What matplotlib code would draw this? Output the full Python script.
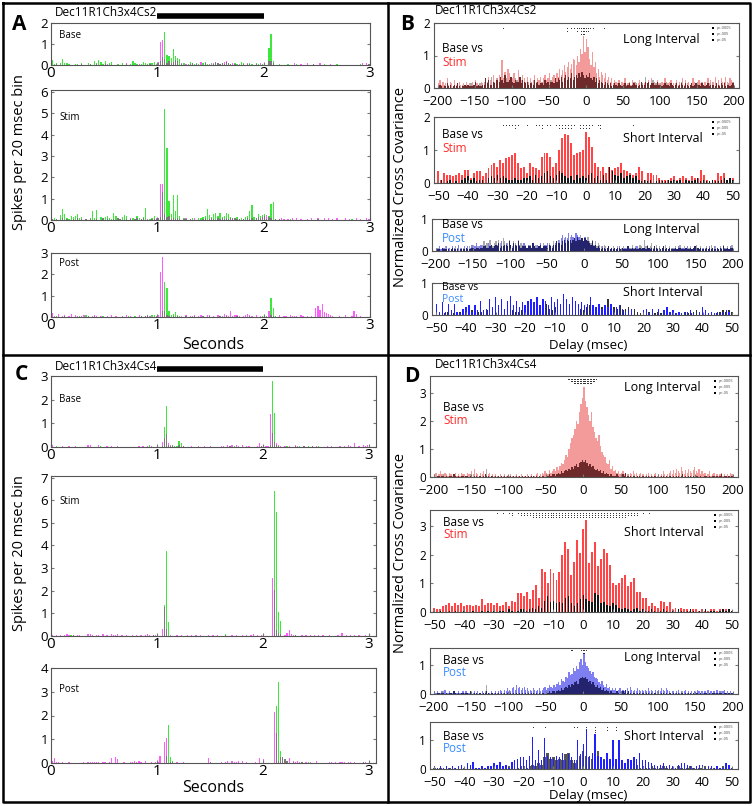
import numpy as np
import matplotlib
matplotlib.use('Agg')
import matplotlib.pyplot as plt
import matplotlib.transforms as mtransforms
from matplotlib.lines import Line2D

plt.rcParams['font.family'] = ['Open Sans', 'DejaVu Sans']

# ---------------- data (values in 1/100) ----------------
# PSTH, 20 ms bins, 0..3 s (150 bins); rows of 10 bins = 0.2 s
a_base_green = [
    25, 5, 10, 0, 10, 30, 10, 10, 5, 0,
    0, 5, 5, 0, 10, 0, 0, 10, 5, 0,
    20, 10, 25, 15, 5, 20, 0, 10, 15, 0,
    0, 5, 0, 10, 0, 5, 0, 5, 20, 10,
    5, 0, 5, 15, 10, 5, 10, 10, 15, 0,
    10, 20, 40, 155, 50, 45, 35, 75, 45, 35,
    30, 5, 10, 0, 5, 15, 10, 5, 10, 5,
    0, 10, 15, 5, 0, 10, 5, 15, 10, 5,
    10, 5, 15, 10, 5, 0, 10, 5, 0, 15,
    10, 0, 5, 10, 5, 0, 10, 5, 0, 5,
    0, 0, 80, 150, 20, 0, 0, 5, 0, 0,
    0, 5, 0, 0, 0, 5, 0, 0, 0, 0,
    0, 0, 0, 5, 0, 0, 0, 0, 5, 0,
    0, 0, 0, 0, 5, 0, 0, 0, 0, 0,
    0, 0, 0, 0, 0, 5, 0, 0, 0, 5]
a_base_mag = [
    0, 0, 5, 0, 0, 0, 0, 0, 0, 0,
    0, 0, 0, 0, 5, 0, 0, 0, 5, 0,
    0, 5, 0, 0, 0, 5, 5, 0, 0, 0,
    0, 0, 0, 0, 0, 10, 0, 0, 0, 0,
    0, 5, 0, 0, 0, 0, 5, 0, 0, 5,
    15, 110, 120, 30, 10, 20, 10, 15, 25, 20,
    0, 10, 0, 5, 0, 5, 10, 0, 5, 0,
    15, 0, 10, 0, 5, 0, 10, 15, 10, 5,
    10, 15, 20, 10, 5, 10, 5, 0, 5, 0,
    5, 0, 10, 5, 0, 0, 5, 0, 10, 0,
    0, 0, 20, 20, 10, 0, 0, 0, 0, 0,
    0, 0, 0, 0, 10, 0, 0, 5, 0, 0,
    10, 0, 0, 5, 0, 0, 10, 0, 0, 0,
    0, 5, 0, 0, 0, 0, 0, 0, 0, 0,
    0, 0, 0, 0, 0, 0, 10, 0, 10, 5]
a_stim_green = [
    5, 10, 5, 0, 25, 50, 30, 10, 5, 20,
    15, 20, 30, 10, 15, 0, 5, 0, 10, 40,
    10, 45, 0, 15, 10, 15, 20, 10, 5, 35,
    20, 10, 5, 15, 25, 20, 0, 5, 10, 5,
    20, 10, 5, 15, 55, 0, 5, 10, 20, 5,
    10, 15, 130, 520, 340, 90, 30, 115, 40, 115,
    20, 0, 10, 5, 0, 5, 10, 0, 0, 10,
    10, 15, 20, 50, 25, 15, 30, 35, 20, 35,
    15, 20, 35, 30, 15, 10, 10, 15, 5, 10,
    5, 15, 20, 40, 70, 15, 10, 30, 20, 25,
    30, 5, 20, 75, 85, 5, 0, 5, 0, 0,
    0, 0, 5, 0, 0, 0, 0, 0, 0, 0,
    0, 0, 0, 0, 0, 5, 0, 0, 0, 0,
    0, 0, 0, 0, 0, 0, 0, 0, 0, 0,
    0, 5, 0, 0, 0, 0, 0, 0, 0, 0]
a_stim_mag = [
    5, 0, 5, 0, 0, 10, 0, 5, 0, 0,
    5, 0, 10, 0, 5, 0, 5, 0, 5, 0,
    0, 5, 0, 0, 10, 0, 5, 0, 0, 5,
    0, 10, 5, 0, 0, 5, 0, 10, 0, 5,
    10, 0, 5, 10, 0, 5, 0, 5, 5, 10,
    10, 170, 170, 30, 15, 20, 5, 10, 5, 10,
    5, 0, 5, 10, 0, 5, 0, 10, 0, 0,
    0, 5, 10, 0, 5, 10, 5, 0, 10, 5,
    10, 5, 10, 5, 10, 10, 10, 5, 5, 0,
    5, 0, 10, 5, 10, 0, 10, 15, 10, 15,
    20, 25, 15, 10, 0, 5, 0, 5, 10, 5,
    0, 5, 0, 10, 0, 10, 0, 5, 0, 0,
    5, 0, 10, 0, 0, 10, 0, 0, 10, 0,
    10, 0, 5, 0, 10, 0, 0, 0, 10, 0,
    5, 0, 0, 10, 0, 5, 0, 0, 10, 5]
a_post_green = [
    0, 0, 5, 0, 0, 0, 5, 0, 0, 0,
    0, 0, 0, 5, 0, 0, 10, 5, 0, 0,
    5, 0, 0, 0, 5, 0, 0, 0, 0, 0,
    0, 0, 0, 0, 0, 0, 5, 0, 0, 5,
    0, 0, 5, 0, 5, 10, 0, 10, 10, 0,
    0, 0, 30, 165, 135, 30, 10, 15, 25, 10,
    5, 0, 0, 5, 0, 0, 0, 5, 0, 0,
    0, 5, 0, 0, 5, 0, 0, 0, 0, 5,
    0, 0, 5, 0, 0, 0, 0, 5, 0, 0,
    0, 0, 0, 5, 0, 0, 0, 0, 0, 5,
    0, 5, 0, 90, 40, 5, 0, 0, 0, 0,
    0, 0, 0, 0, 0, 0, 0, 0, 0, 0,
    0, 0, 0, 0, 0, 0, 0, 0, 0, 0,
    0, 0, 0, 0, 0, 0, 0, 0, 0, 0,
    0, 0, 0, 0, 0, 0, 0, 0, 0, 0]
a_post_mag = [
    20, 5, 0, 15, 0, 5, 10, 0, 5, 15,
    0, 10, 5, 0, 5, 10, 0, 5, 0, 5,
    10, 5, 0, 5, 0, 0, 5, 0, 10, 0,
    5, 0, 0, 5, 0, 10, 0, 5, 0, 0,
    0, 10, 5, 0, 5, 10, 5, 0, 0, 5,
    10, 210, 280, 30, 10, 5, 0, 5, 0, 5,
    0, 5, 0, 10, 0, 5, 5, 10, 0, 5,
    10, 5, 0, 10, 10, 0, 5, 0, 10, 5,
    5, 15, 10, 5, 30, 5, 10, 10, 5, 0,
    5, 10, 15, 10, 5, 0, 10, 0, 5, 0,
    10, 0, 30, 10, 5, 0, 0, 10, 0, 5,
    5, 0, 10, 5, 5, 5, 0, 10, 5, 0,
    5, 0, 5, 0, 40, 50, 35, 60, 25, 20,
    15, 10, 5, 0, 0, 5, 0, 0, 10, 0,
    0, 5, 30, 15, 0, 5, 0, 0, 0, 0]

c_base_green = [
    0, 0, 5, 0, 0, 0, 0, 0, 0, 0,
    0, 0, 0, 0, 0, 0, 0, 0, 0, 0,
    0, 0, 0, 5, 0, 0, 0, 0, 0, 0,
    0, 0, 0, 0, 0, 0, 0, 0, 0, 0,
    0, 0, 0, 0, 0, 0, 10, 0, 0, 0,
    0, 0, 5, 85, 175, 10, 5, 10, 5, 5,
    25, 15, 5, 0, 0, 0, 0, 0, 0, 0,
    0, 0, 0, 0, 0, 0, 0, 0, 0, 0,
    0, 0, 0, 0, 5, 0, 5, 0, 0, 0,
    0, 0, 0, 0, 0, 0, 0, 0, 0, 5,
    0, 0, 0, 10, 280, 145, 10, 5, 0, 0,
    0, 5, 0, 0, 0, 5, 0, 5, 0, 5,
    0, 5, 0, 5, 0, 0, 5, 0, 0, 0,
    0, 0, 0, 0, 0, 0, 0, 0, 0, 0,
    0, 0, 0, 0, 0, 0, 0, 0, 0, 0]
c_base_mag = [
    10, 0, 0, 0, 0, 5, 0, 0, 5, 0,
    0, 5, 0, 0, 0, 0, 0, 10, 10, 0,
    0, 0, 10, 0, 0, 0, 5, 0, 5, 0,
    0, 5, 0, 0, 0, 0, 0, 0, 0, 0,
    0, 5, 0, 5, 0, 5, 0, 5, 0, 0,
    0, 0, 20, 40, 55, 15, 10, 5, 0, 0,
    10, 0, 5, 0, 0, 0, 5, 0, 0, 5,
    0, 0, 5, 0, 0, 5, 0, 0, 0, 0,
    5, 5, 0, 10, 5, 10, 0, 10, 5, 0,
    10, 0, 5, 5, 0, 0, 0, 5, 15, 5,
    5, 5, 5, 140, 60, 20, 15, 10, 5, 0,
    5, 0, 5, 0, 0, 10, 5, 0, 0, 5,
    0, 0, 0, 5, 0, 5, 0, 0, 0, 0,
    5, 0, 5, 0, 0, 0, 5, 0, 5, 0,
    10, 5, 0, 15, 0, 5, 0, 10, 5, 10]
c_stim_green = [
    0, 0, 0, 0, 0, 0, 0, 0, 0, 5,
    5, 0, 0, 0, 0, 0, 0, 0, 0, 0,
    0, 0, 0, 0, 0, 0, 0, 0, 0, 0,
    0, 0, 0, 0, 0, 0, 0, 0, 0, 0,
    0, 0, 0, 0, 0, 0, 0, 0, 5, 0,
    0, 0, 0, 135, 375, 60, 0, 0, 0, 0,
    0, 0, 0, 0, 0, 0, 0, 0, 0, 0,
    0, 0, 0, 0, 0, 0, 0, 0, 0, 0,
    0, 0, 10, 0, 0, 0, 0, 0, 0, 0,
    0, 0, 0, 0, 0, 0, 0, 0, 0, 0,
    0, 0, 0, 0, 0, 640, 550, 105, 65, 0,
    0, 0, 0, 0, 0, 5, 0, 0, 0, 0,
    0, 0, 0, 0, 0, 0, 0, 0, 0, 0,
    0, 0, 0, 0, 0, 0, 0, 0, 0, 0,
    0, 0, 0, 0, 0, 0, 0, 0, 0, 0]
c_stim_mag = [
    5, 0, 5, 0, 5, 0, 5, 10, 5, 0,
    5, 0, 5, 5, 0, 0, 0, 10, 10, 5,
    0, 5, 5, 0, 10, 0, 5, 0, 10, 5,
    5, 10, 0, 5, 0, 5, 0, 0, 5, 0,
    5, 0, 5, 0, 5, 10, 5, 0, 5, 5,
    0, 0, 30, 130, 30, 0, 5, 0, 0, 5,
    0, 5, 0, 0, 5, 0, 5, 0, 5, 0,
    5, 0, 0, 0, 5, 0, 5, 0, 5, 0,
    0, 0, 5, 0, 0, 5, 0, 5, 0, 0,
    5, 0, 5, 0, 5, 10, 0, 5, 0, 5,
    0, 0, 0, 0, 255, 205, 25, 15, 10, 0,
    5, 15, 25, 10, 5, 5, 0, 0, 5, 0,
    5, 0, 5, 0, 5, 0, 5, 0, 5, 0,
    0, 5, 0, 0, 0, 5, 0, 15, 0, 5,
    0, 5, 0, 5, 0, 5, 0, 0, 5, 0]
c_post_green = [
    0, 0, 0, 0, 0, 0, 0, 0, 0, 0,
    0, 0, 0, 0, 0, 0, 0, 0, 0, 0,
    0, 0, 0, 0, 0, 0, 0, 0, 0, 0,
    0, 0, 0, 0, 0, 0, 0, 0, 0, 0,
    0, 0, 0, 0, 0, 0, 0, 0, 0, 0,
    0, 0, 0, 0, 30, 160, 25, 10, 0, 0,
    0, 0, 0, 0, 0, 0, 0, 0, 0, 0,
    0, 0, 0, 0, 0, 5, 0, 0, 0, 0,
    0, 0, 0, 0, 0, 0, 0, 0, 0, 0,
    0, 0, 0, 0, 0, 0, 0, 0, 0, 0,
    0, 0, 0, 0, 0, 0, 240, 340, 50, 25,
    15, 10, 0, 0, 5, 0, 0, 0, 5, 0,
    0, 5, 0, 0, 0, 0, 0, 0, 0, 0,
    0, 0, 0, 0, 0, 0, 0, 0, 0, 0,
    0, 0, 0, 0, 0, 0, 0, 5, 0, 0]
c_post_mag = [
    10, 20, 5, 5, 0, 5, 0, 0, 5, 0,
    0, 0, 0, 0, 0, 5, 0, 5, 5, 5,
    5, 5, 5, 0, 5, 5, 0, 5, 20, 0,
    25, 15, 0, 0, 5, 0, 0, 5, 5, 10,
    5, 10, 5, 0, 10, 0, 0, 5, 0, 5,
    5, 30, 0, 90, 105, 0, 5, 5, 0, 5,
    0, 0, 5, 0, 0, 0, 0, 0, 0, 0,
    0, 0, 0, 0, 20, 5, 0, 0, 0, 0,
    5, 0, 5, 10, 0, 10, 5, 5, 10, 0,
    10, 0, 5, 0, 0, 0, 5, 0, 20, 0,
    15, 0, 0, 0, 0, 215, 125, 10, 25, 25,
    15, 10, 20, 0, 10, 5, 10, 5, 5, 0,
    5, 0, 5, 0, 0, 10, 0, 0, 0, 0,
    0, 5, 5, 0, 5, 0, 5, 5, 5, 0,
    5, 5, 0, 5, 0, 0, 0, 5, 5, 0]

# Cross covariance, long interval: 2 ms bins, -200..200 (rows of 40 ms)
b_long_stim = [
    15, 25, 10, 20, 5, 15, 30, 10, 20, 15, 5, 25, 10, 15, 20, 10, 5, 15, 10, 20,
    10, 15, 5, 20, 10, 25, 15, 10, 5, 20, 15, 10, 30, 20, 35, 25, 10, 40, 20, 30,
    25, 40, 35, 85, 30, 50, 20, 60, 45, 35, 30, 45, 25, 20, 55, 35, 25, 40, 30, 20,
    35, 20, 30, 15, 25, 40, 20, 30, 25, 35, 15, 30, 40, 25, 30, 45, 20, 35, 40, 30,
    45, 35, 60, 40, 55, 70, 50, 65, 80, 60, 75, 90, 85, 70, 100, 80, 120, 105, 160, 110,
    150, 125, 90, 70, 110, 65, 80, 45, 60, 35, 50, 40, 30, 45, 25, 35, 20, 30, 15, 25,
    20, 15, 25, 10, 20, 15, 30, 10, 15, 20, 10, 25, 15, 20, 10, 15, 25, 20, 10, 15,
    20, 15, 25, 10, 30, 15, 20, 10, 25, 15, 10, 20, 15, 30, 10, 15, 20, 25, 10, 15,
    15, 25, 10, 20, 15, 30, 10, 25, 15, 20, 10, 15, 30, 20, 15, 10, 25, 15, 20, 10,
    20, 10, 30, 15, 25, 10, 20, 35, 15, 25, 10, 30, 20, 15, 35, 20, 10, 30, 25, 15]
b_long_base = [
    5, 10, 5, 0, 10, 5, 15, 5, 10, 0, 5, 10, 5, 15, 5, 0, 10, 5, 10, 5,
    10, 5, 15, 5, 10, 20, 5, 10, 15, 5, 10, 20, 30, 15, 25, 10, 35, 20, 15, 25,
    30, 20, 35, 25, 15, 40, 30, 20, 25, 35, 20, 15, 30, 25, 20, 35, 15, 25, 20, 15,
    20, 10, 15, 20, 10, 25, 15, 20, 10, 15, 20, 10, 25, 15, 20, 10, 25, 20, 15, 30,
    20, 30, 25, 35, 20, 30, 40, 25, 35, 30, 45, 25, 35, 40, 30, 45, 35, 50, 40, 30,
    40, 35, 45, 30, 25, 35, 20, 30, 15, 25, 20, 15, 10, 20, 15, 10, 15, 5, 10, 15,
    10, 5, 15, 10, 5, 10, 15, 5, 10, 15, 5, 10, 20, 10, 15, 5, 10, 20, 15, 10,
    35, 15, 20, 10, 15, 25, 10, 15, 20, 10, 15, 5, 10, 15, 20, 10, 5, 15, 10, 5,
    10, 15, 5, 10, 20, 10, 5, 15, 10, 5, 10, 15, 5, 10, 15, 20, 10, 5, 15, 10,
    5, 10, 15, 5, 10, 20, 10, 5, 15, 10, 5, 15, 10, 20, 5, 10, 15, 5, 10, 20]
b_long_post = [
    10, 5, 15, 5, 10, 10, 5, 15, 5, 10, 5, 15, 10, 5, 10, 20, 5, 10, 5, 15,
    10, 15, 5, 10, 20, 10, 15, 25, 10, 15, 20, 10, 15, 20, 10, 25, 15, 20, 10, 15,
    20, 15, 25, 10, 30, 15, 20, 25, 15, 30, 20, 10, 25, 20, 15, 30, 20, 10, 15, 25,
    15, 10, 20, 15, 10, 25, 15, 10, 20, 15, 25, 10, 15, 20, 15, 25, 20, 15, 10, 20,
    25, 30, 35, 25, 40, 50, 35, 45, 40, 55, 35, 50, 45, 40, 55, 50, 45, 35, 40, 30,
    45, 35, 30, 25, 20, 30, 15, 20, 10, 15, 10, 5, 15, 10, 5, 10, 15, 5, 10, 5,
    10, 5, 10, 15, 5, 10, 5, 10, 5, 15, 10, 5, 10, 5, 10, 15, 5, 10, 5, 10,
    10, 5, 15, 10, 5, 10, 5, 15, 10, 5, 10, 5, 10, 15, 5, 10, 5, 10, 5, 10,
    5, 10, 5, 15, 10, 5, 10, 5, 10, 15, 5, 10, 5, 10, 15, 5, 10, 5, 10, 5,
    10, 5, 10, 5, 15, 5, 10, 15, 5, 10, 5, 10, 5, 15, 10, 5, 10, 5, 15, 10]
d_long_stim = [
    10, 15, 5, 10, 20, 10, 5, 15, 10, 5, 15, 10, 5, 10, 15, 5, 10, 5, 15, 10,
    10, 5, 15, 10, 5, 20, 10, 30, 15, 10, 5, 15, 10, 20, 10, 5, 10, 15, 5, 10,
    5, 10, 5, 5, 10, 5, 5, 10, 5, 5, 5, 10, 5, 5, 5, 10, 5, 5, 10, 5,
    5, 5, 10, 5, 5, 10, 5, 5, 10, 15, 5, 10, 15, 10, 20, 15, 10, 25, 15, 20,
    30, 20, 35, 25, 40, 50, 45, 60, 80, 70, 100, 120, 140, 150, 170, 200, 190, 230, 260, 280,
    320, 270, 250, 220, 200, 230, 180, 160, 140, 130, 150, 110, 90, 80, 70, 50, 45, 60, 30, 40,
    20, 25, 15, 20, 10, 15, 20, 10, 15, 10, 5, 15, 10, 20, 10, 15, 5, 10, 15, 10,
    10, 5, 10, 15, 5, 10, 5, 10, 15, 5, 10, 5, 10, 20, 10, 5, 10, 15, 20, 10,
    25, 15, 30, 20, 15, 35, 20, 10, 25, 15, 30, 20, 15, 25, 35, 20, 15, 30, 10, 20,
    10, 15, 5, 10, 20, 5, 10, 15, 5, 10, 5, 10, 15, 5, 10, 5, 10, 5, 15, 10]
d_long_base = [
    5, 0, 5, 5, 0, 5, 10, 0, 5, 0, 5, 5, 0, 10, 5, 0, 5, 0, 5, 5,
    0, 5, 5, 0, 10, 5, 0, 5, 5, 0, 5, 5, 0, 5, 10, 30, 5, 0, 5, 5,
    0, 5, 0, 5, 0, 5, 0, 5, 0, 5, 0, 5, 0, 5, 0, 5, 0, 5, 0, 5,
    0, 5, 0, 5, 0, 5, 5, 0, 5, 0, 5, 0, 5, 5, 0, 5, 5, 10, 5, 10,
    10, 5, 10, 15, 10, 20, 15, 20, 25, 20, 30, 25, 35, 30, 40, 45, 35, 50, 55, 60,
    55, 60, 50, 40, 45, 35, 40, 30, 25, 30, 20, 25, 15, 20, 10, 15, 10, 5, 10, 5,
    5, 5, 10, 5, 0, 5, 10, 5, 15, 5, 10, 5, 0, 5, 5, 0, 5, 5, 0, 5,
    5, 0, 5, 5, 0, 5, 0, 5, 5, 0, 5, 0, 5, 5, 0, 5, 0, 5, 5, 0,
    5, 0, 5, 5, 0, 5, 10, 0, 5, 0, 5, 5, 0, 5, 0, 5, 5, 0, 5, 0,
    0, 5, 5, 0, 5, 0, 5, 5, 0, 5, 0, 5, 10, 0, 5, 5, 0, 5, 0, 5]
d_long_post = [
    10, 5, 10, 5, 5, 10, 5, 15, 5, 5, 10, 5, 5, 10, 5, 5, 10, 5, 5, 10,
    5, 10, 5, 5, 10, 5, 5, 10, 5, 10, 5, 5, 10, 5, 5, 10, 5, 5, 10, 5,
    5, 10, 5, 10, 15, 10, 5, 15, 10, 20, 15, 10, 20, 25, 15, 30, 20, 25, 15, 20,
    25, 15, 20, 10, 15, 10, 20, 15, 10, 15, 20, 10, 15, 20, 25, 15, 20, 30, 25, 20,
    30, 25, 35, 40, 30, 50, 45, 40, 60, 55, 75, 65, 70, 90, 80, 95, 85, 110, 120, 100,
    140, 110, 95, 90, 80, 70, 75, 60, 55, 50, 40, 35, 45, 30, 25, 35, 20, 25, 15, 20,
    15, 20, 10, 15, 20, 10, 15, 10, 15, 20, 10, 25, 15, 10, 15, 10, 20, 15, 10, 15,
    10, 15, 10, 20, 10, 15, 10, 5, 15, 10, 15, 10, 20, 15, 10, 20, 15, 10, 5, 10,
    10, 5, 10, 15, 5, 10, 5, 10, 15, 5, 10, 5, 10, 5, 10, 5, 15, 10, 5, 10,
    5, 10, 5, 15, 5, 10, 5, 10, 5, 15, 5, 10, 5, 10, 15, 5, 10, 5, 10, 5]

# Cross covariance, short interval: 1 ms bins, -50..50 (101 bins)
b_short_stim = [
    35, 10, 30, 25, 25, 20, 25, 30, 25, 40,
    40, 15, 30, 35, 35, 20, 30, 45, 55, 60,
    50, 70, 60, 75, 80, 85, 90, 60, 45, 50,
    30, 60, 50, 45, 40, 80, 90, 90, 80, 50,
    60, 100, 135, 150, 145, 120, 85, 90, 95, 100,
    155, 140, 110, 60, 50, 35, 50, 30, 50, 40,
    45, 50, 60, 40, 35, 30, 25, 30, 50, 35,
    10, 30, 30, 25, 25, 15, 10, 10, 10, 15,
    20, 10, 15, 20, 15, 10, 20, 15, 15, 40,
    25, 10, 5, 10, 10, 30, 20, 30, 10, 15, 15]
b_short_base = [
    0, 10, 0, 5, 10, 0, 5, 0, 10, 15,
    20, 10, 15, 5, 10, 10, 0, 15, 20, 15,
    25, 15, 20, 15, 10, 10, 15, 10, 10, 15,
    15, 20, 10, 25, 15, 20, 30, 35, 20, 15,
    25, 35, 30, 20, 15, 20, 10, 25, 15, 20,
    15, 25, 30, 15, 20, 10, 25, 10, 50, 35,
    25, 20, 30, 15, 20, 25, 15, 20, 10, 5,
    10, 5, 10, 0, 5, 10, 5, 5, 10, 5,
    10, 5, 10, 0, 10, 5, 5, 10, 15, 5,
    10, 5, 5, 10, 5, 5, 10, 15, 10, 15, 10]
b_short_post = [
    35, 10, 40, 10, 35, 15, 35, 10, 5, 20,
    25, 30, 10, 30, 15, 45, 15, 20, 50, 25,
    55, 30, 50, 20, 45, 60, 30, 45, 25, 40,
    30, 45, 50, 40, 55, 30, 50, 45, 30, 55,
    40, 50, 35, 65, 50, 35, 55, 45, 35, 40,
    30, 35, 55, 30, 25, 35, 20, 30, 25, 35,
    20, 25, 30, 20, 10, 15, 20, 0, 0, 0,
    15, 20, 5, 20, 0, 20, 0, 15, 25, 10,
    15, 5, 10, 5, 10, 10, 15, 5, 0, 10,
    25, 15, 5, 10, 5, 10, 5, 10, 15, 10, 0]
d_short_stim = [
    15, 10, 10, 20, 25, 30, 20, 30, 25, 30,
    20, 25, 25, 20, 25, 20, 45, 25, 30, 30,
    25, 30, 20, 25, 35, 20, 40, 35, 65, 65,
    55, 70, 45, 75, 95, 50, 150, 140, 100, 150,
    135, 110, 140, 200, 245, 220, 130, 175, 250, 205,
    290, 320, 170, 210, 245, 160, 185, 220, 205, 165,
    100, 95, 100, 120, 130, 90, 105, 120, 70, 70,
    50, 50, 20, 30, 20, 15, 40, 35, 20, 35,
    10, 15, 10, 15, 10, 10, 5, 10, 10, 5,
    10, 5, 5, 10, 10, 5, 10, 5, 10, 10, 5]
d_short_base = [
    5, 0, 5, 0, 0, 5, 0, 5, 0, 0,
    5, 0, 0, 5, 0, 0, 5, 0, 5, 0,
    5, 0, 5, 5, 0, 10, 5, 0, 5, 10,
    10, 5, 10, 15, 10, 20, 15, 40, 55, 35,
    40, 30, 35, 30, 50, 55, 30, 20, 30, 45,
    60, 45, 40, 35, 65, 60, 30, 35, 25, 20,
    30, 25, 15, 10, 15, 10, 5, 10, 15, 5,
    10, 5, 5, 10, 5, 0, 5, 10, 5, 0,
    5, 0, 10, 5, 0, 5, 10, 5, 0, 5,
    5, 10, 0, 5, 5, 0, 5, 10, 5, 10, 5]
d_short_post = [
    10, 5, 10, 5, 10, 5, 10, 5, 10, 15,
    5, 20, 15, 25, 5, 5, 10, 5, 10, 10,
    20, 15, 25, 10, 15, 5, 25, 30, 35, 40,
    40, 30, 45, 110, 30, 65, 30, 105, 45, 40,
    35, 45, 40, 55, 30, 50, 40, 30, 100, 50,
    85, 135, 45, 55, 120, 45, 40, 30, 55, 35,
    100, 35, 100, 30, 20, 35, 30, 40, 35, 55,
    30, 30, 25, 20, 15, 10, 15, 20, 10, 15,
    10, 5, 15, 20, 20, 15, 10, 5, 10, 15,
    15, 5, 10, 10, 5, 10, 5, 5, 20, 15, 5]

# significance marks: lag (ms) and number of stacked dots (1..3)
b_long_sig_lag = [-112, -25, -20, -16, -12, -9, -6, -4, -2, 0, 3, 6, 10, 25]
b_long_sig_lvl = [1, 2, 1, 1, 2, 1, 3, 3, 3, 2, 2, 1, 1, 1]
b_short_sig_lag = [-28, -27, -26, -25, -24, -23, -20, -17, -16, -15, -13, -12, -10, -9,
                   -8, -7, -6, -5, -4, -2, -1, 0, 1, 2, 4, 5, 16]
b_short_sig_lvl = [1, 1, 1, 1, 2, 1, 1, 1, 1, 2, 1, 1, 1, 2, 2, 2, 2, 2, 1, 2, 2, 2, 2, 1, 1, 2, 1]
d_long_sig_lag = [-21, -19, -17, -15, -13, -11, -9, -7, -5, -3, -1, 1, 3, 5, 7, 9, 11, 13, 15, 17]
d_long_sig_lvl = [1, 1, 2, 2, 3, 3, 3, 3, 3, 3, 3, 3, 3, 3, 3, 3, 3, 2, 2, 1]
d_short_sig_lag = [-29, -27, -25, -24, -22, -21, -20, -19, -18, -17, -16, -15, -14, -13, -12,
                   -11, -10, -9, -8, -7, -6, -5, -4, -3, -2, -1, 0, 1, 2, 3, 4, 5, 6, 7, 8,
                   9, 10, 11, 12, 13, 14, 15, 16, 17, 18, 20, 22]
d_short_sig_lvl = [1, 1, 1, 2, 1, 2, 2, 2, 2, 3, 3, 3, 3, 3, 3,
                   3, 3, 3, 3, 3, 3, 3, 3, 3, 3, 3, 3, 3, 3, 3, 3, 3, 3, 3, 3,
                   3, 3, 3, 3, 3, 3, 2, 2, 2, 2, 1, 1]
d_lpost_sig_lag = [-17, -15, -3, -1, 1, 4]
d_lpost_sig_lvl = [1, 1, 1, 2, 2, 1]
d_spost_sig_lag = [-17, -13, -3, -2, 1, 4, 8, 11]
d_spost_sig_lvl = [1, 1, 1, 1, 2, 3, 2, 2]

p_labels = ['p<.0005', 'p<.005', 'p<.05']

GREEN = '#3ee63e'
MAG = '#ff5cff'
GRAY = '#7a7a7a'

W, H = 753, 806
fig = plt.figure(figsize=(W / 100, H / 100), dpi=100)


def box(x0, y0, x1, y1):
    return fig.add_axes([x0 / W, 1 - y1 / H, (x1 - x0) / W, (y1 - y0) / H])


def ftext(x, y, s, **kw):
    kw.setdefault('va', 'center')
    fig.text(x / W, 1 - y / H, s, **kw)


def style(ax, xs, ys):
    for sp in ax.spines.values():
        sp.set_color('#555555')
        sp.set_linewidth(0.8)
    ax.tick_params(axis='x', labelsize=xs, pad=1, length=2, direction='in', color='#777777')
    ax.tick_params(axis='y', labelsize=ys, pad=2, length=2, direction='in', color='#777777',
                   right=True)


def psth(ax, green, mag, ymax, yticks, xmax):
    g = np.array(green) / 100.0
    m = np.array(mag) / 100.0
    t = np.arange(len(g)) * 0.02 + 0.01
    ax.bar(t, g, width=0.012, color=GREEN, linewidth=0)
    ax.bar(t, m, width=0.012, color=MAG, linewidth=0)
    ax.bar(t, np.minimum(g, m), width=0.012, color=GRAY, linewidth=0)
    ax.set_xlim(0, xmax)
    ax.set_ylim(0, ymax)
    ax.set_xticks([0, 1, 2, 3])
    ax.set_yticks(yticks)
    style(ax, 11, 9.5)


def long_cc(ax, test, base, ymax, yticks, col, col_ov):
    lag = np.arange(-199, 200, 2)
    a = np.array(test) / 100.0
    b = np.array(base) / 100.0
    ax.bar(lag, a, width=1.7, color=col, linewidth=0)
    ax.bar(lag, b, width=1.7, color='#a8a8a8', linewidth=0)
    ax.bar(lag, np.minimum(a, b), width=1.7, color=col_ov, linewidth=0)
    ax.set_xlim(-205, 207)
    ax.set_ylim(0, ymax)
    ax.set_xticks(range(-200, 201, 50))
    ax.set_yticks(yticks)
    style(ax, 9.5, 8.5)
    ax.tick_params(axis='x', pad=5)
    ax.tick_params(axis='y', pad=3)


def short_cc(ax, test, base, ymax, yticks, col, base_col, wt, wb, base_first=False):
    lag = np.arange(-50, 51)
    a = np.array(test) / 100.0
    b = np.array(base) / 100.0
    if base_first:
        ax.bar(lag, b, width=wb, color=base_col, linewidth=0)
        ax.bar(lag, a, width=wt, color=col, linewidth=0)
    else:
        ax.bar(lag, a, width=wt, color=col, linewidth=0)
        ax.bar(lag, b, width=wb, color=base_col, linewidth=0)
    ax.set_xlim(-51.5, 52)
    ax.set_ylim(0, ymax)
    ax.set_xticks(range(-50, 51, 10))
    ax.set_yticks(yticks)
    style(ax, 9.5, 8.5)
    ax.tick_params(axis='x', pad=5)
    ax.tick_params(axis='y', pad=3)


def sig_marks(ax, lags, levels, ytop, dy):
    tr = mtransforms.blended_transform_factory(ax.transData, ax.transAxes)
    for lag, k in zip(lags, levels):
        ys = [ytop - dy * j for j in range(k)]
        ax.plot([lag] * k, ys, ls='none', marker='s', ms=0.6, color='#222222',
                markeredgewidth=0, transform=tr, clip_on=False)


def p_legend(ax, hpx, x=0.915):
    for j, s in enumerate(p_labels):
        y = 1 - (5 + 6 * j) / hpx
        ax.plot([x], [y], marker='s', ms=1.8, color='k', markeredgewidth=0,
                transform=ax.transAxes)
        ax.text(x + 0.012, y, s, fontsize=2.8, va='center', color='#444444',
                transform=ax.transAxes)


def stim_bar(ax, ypx, hpx):
    tr = mtransforms.blended_transform_factory(ax.transData, ax.transAxes)
    ax.plot([1, 2], [1 + ypx / hpx] * 2, color='k', lw=4, transform=tr, clip_on=False,
            solid_capstyle='butt')


# ---------------- panel A ----------------
ax = box(51, 23, 370, 65)
psth(ax, a_base_green, a_base_mag, 2, [0, 1, 2], 3)
stim_bar(ax, 7, 42)
ax = box(51, 90, 370, 220)
psth(ax, a_stim_green, a_stim_mag, 6.1, range(7), 3)
ax = box(51, 253, 370, 317)
psth(ax, a_post_green, a_post_mag, 3, [0, 1, 2, 3], 3)

ftext(12, 25, 'A', fontsize=15, fontweight='bold')
ftext(55, 12, 'Dec11R1Ch3x4Cs2', fontsize=8.5)
ftext(59, 35, 'Base', fontsize=7)
ftext(59, 117, 'Stim', fontsize=7)
ftext(59, 264, 'Post', fontsize=7)
ftext(213, 345, 'Seconds', fontsize=11.5, ha='center')
ftext(20, 152, 'Spikes per 20 msec bin', fontsize=10.5, rotation=90, ha='center')

# ---------------- panel C ----------------
ax = box(51, 376, 376, 447)
psth(ax, c_base_green, c_base_mag, 3, [0, 1, 2, 3], 3.07)
stim_bar(ax, 7, 71)
ax = box(51, 476, 376, 636)
psth(ax, c_stim_green, c_stim_mag, 7.07, range(8), 3.07)
ax = box(51, 668, 376, 763)
psth(ax, c_post_green, c_post_mag, 4, [0, 1, 2, 3, 4], 3.07)

ftext(15, 375, 'C', fontsize=15, fontweight='bold')
ftext(55, 367, 'Dec11R1Ch3x4Cs4', fontsize=8.5)
ftext(59, 400, 'Base', fontsize=7)
ftext(59, 502, 'Stim', fontsize=7)
ftext(59, 689, 'Post', fontsize=7)
ftext(213, 788, 'Seconds', fontsize=11.5, ha='center')
ftext(20, 553, 'Spikes per 20 msec bin', fontsize=10.5, rotation=90, ha='center')

# ---------------- panel B ----------------
RED_L = '#f39a9a'
RED_OV = '#6e2a2a'
BLUE_L = '#7f7ff2'
BLUE_OV = '#23236e'

ax = box(434, 23, 739, 88)
long_cc(ax, b_long_stim, b_long_base, 2, [0, 1, 2], RED_L, RED_OV)
sig_marks(ax, b_long_sig_lag, b_long_sig_lvl, 0.93, 0.05)
p_legend(ax, 65)
ax = box(434, 117, 739, 183)
short_cc(ax, b_short_stim, b_short_base, 2, [0, 1, 2], '#ff4545', '#151515', 0.65, 0.5)
sig_marks(ax, b_short_sig_lag, b_short_sig_lvl, 0.88, 0.05)
p_legend(ax, 66)
ax = box(432, 219, 738, 251)
long_cc(ax, b_long_post, b_long_base, 1, [0, 1], BLUE_L, BLUE_OV)
ax = box(432, 283, 738, 315)
short_cc(ax, b_short_post, b_short_base, 1, [0, 1], '#1f1fff', '#303030', 0.45, 0.55,
         base_first=True)

ftext(400, 25, 'B', fontsize=15, fontweight='bold')
ftext(435, 10, 'Dec11R1Ch3x4Cs2', fontsize=8.5)
for yb, ys, col, lab, yl, kind, fs in [(48, 62, '#ff2a2a', 'Stim', 40, 'Long Interval', 8.5),
                                       (135, 149, '#ff2a2a', 'Stim', 138, 'Short Interval', 8.5),
                                       (225, 238, '#3a8cff', 'Post', 229, 'Long Interval', 8.5),
                                       (288, 300, '#3a8cff', 'Post', 292, 'Short Interval', 7.5)]:
    ftext(442, yb, 'Base vs', fontsize=fs)
    ftext(442, ys, lab, fontsize=fs, color=col)
    ftext(623, yl, kind, fontsize=9)
ftext(588, 345, 'Delay (msec)', fontsize=9.5, ha='center')
ftext(401, 187, 'Normalized Cross Covariance', fontsize=10.5, rotation=90, ha='center')

# ---------------- panel D ----------------
ax = box(430, 376, 738, 477)
long_cc(ax, d_long_stim, d_long_base, 3.6, [0, 1, 2, 3], RED_L, RED_OV)
sig_marks(ax, d_long_sig_lag, d_long_sig_lvl, 0.975, 0.022)
p_legend(ax, 101, 0.925)
ax = box(430, 510, 738, 612)
short_cc(ax, d_short_stim, d_short_base, 3.55, [0, 1, 2, 3], '#ff4545', '#151515', 0.65, 0.5)
sig_marks(ax, d_short_sig_lag, d_short_sig_lvl, 0.975, 0.022)
p_legend(ax, 102, 0.925)
ax = box(430, 648, 738, 694)
long_cc(ax, d_long_post, d_long_base, 1.58, [0, 1], BLUE_L, BLUE_OV)
sig_marks(ax, d_lpost_sig_lag, d_lpost_sig_lvl, 0.95, 0.05)
p_legend(ax, 46, 0.925)
ax = box(430, 722, 738, 769)
short_cc(ax, d_short_post, d_short_base, 1.6, [0, 1], '#1f1fff', '#555555', 0.45, 0.8,
         base_first=True)
sig_marks(ax, d_spost_sig_lag, d_spost_sig_lvl, 0.9, 0.06)
p_legend(ax, 47, 0.925)

ftext(404, 377, 'D', fontsize=15, fontweight='bold')
ftext(435, 365, 'Dec11R1Ch3x4Cs4', fontsize=8.5)
for yb, ys, col, lab, yl, kind in [(407, 421, '#ff2a2a', 'Stim', 388, 'Long Interval'),
                                   (522, 535, '#ff2a2a', 'Stim', 532, 'Short Interval'),
                                   (660, 672, '#3a8cff', 'Post', 657, 'Long Interval'),
                                   (736, 748, '#3a8cff', 'Post', 737, 'Short Interval')]:
    ftext(443, yb, 'Base vs', fontsize=8.5)
    ftext(443, ys, lab, fontsize=8.5, color=col)
    ftext(624, yl, kind, fontsize=9)
ftext(588, 795, 'Delay (msec)', fontsize=9.5, ha='center')
ftext(401, 553, 'Normalized Cross Covariance', fontsize=10.5, rotation=90, ha='center')

# ---------------- frame ----------------
for xs, ys in [([3, 750, 750, 3, 3], [3, 3, 802, 802, 3]), ([388, 388], [3, 802]), ([3, 750], [355, 355])]:
    fig.add_artist(Line2D(np.array(xs) / W, 1 - np.array(ys) / H, color='k', lw=1.8))

fig.savefig('out.png', dpi=100)
